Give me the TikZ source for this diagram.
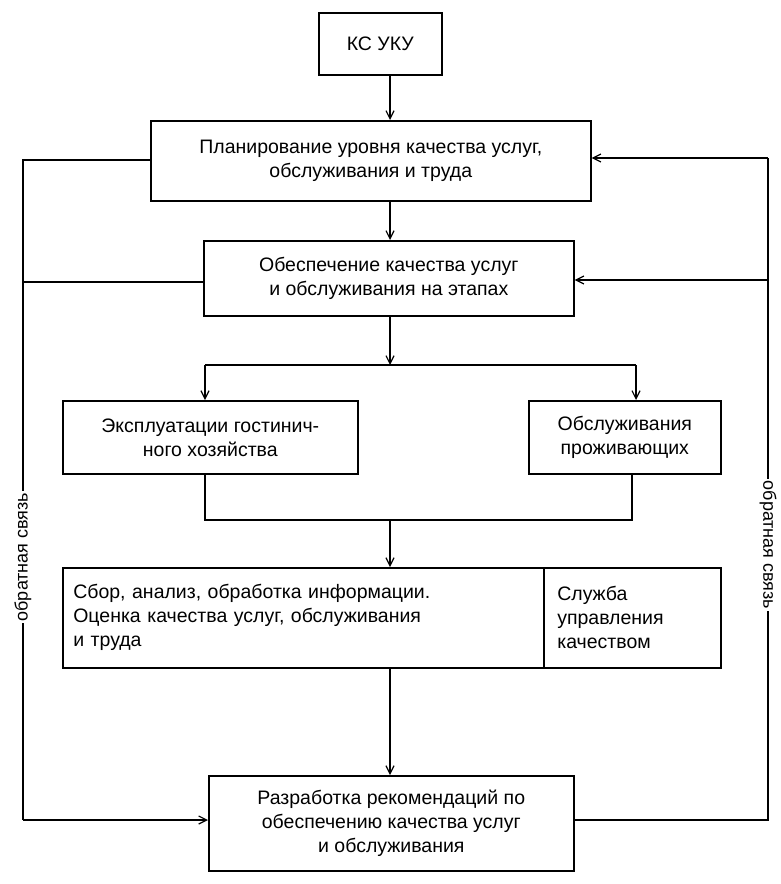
\documentclass[tikz,border=0pt]{standalone}
\usepackage{fontspec}
\setmainfont{Liberation Sans}
\usetikzlibrary{arrows.meta}
\begin{document}
\begin{tikzpicture}[x=1pt,y=-1pt,line width=1.6pt,
  box/.style={draw,line width=1.6pt,anchor=north west,inner sep=0pt,align=center,font=\fontsize{19.5}{24}\selectfont},
  arr/.style={-{Straight Barb[length=8pt,width=8pt,line width=1.2pt]}},
  lbl/.style={font=\fontsize{18}{22}\selectfont,fill=white,inner sep=2pt}]
\useasboundingbox[fill=white] (0,0) rectangle (780,884);
\node[box,minimum width=123pt,minimum height=62pt] (ks) at (318,12) {КС УКУ};
\node[box,minimum width=440pt,minimum height=80pt] (plan) at (150,120) {Планирование уровня качества услуг,\\обслуживания и труда};
\node[box,minimum width=370pt,minimum height=75pt] (obes) at (203,240) {Обеспечение качества услуг\\и обслуживания на этапах};
\node[box,minimum width=295pt,minimum height=73pt] (expl) at (62,400) {Эксплуатации гостинич-\\ного хозяйства};
\node[box,minimum width=192pt,minimum height=73pt] (obsl) at (528,400) {Обслуживания\\проживающих};
\node[box,minimum width=481pt,minimum height=100pt,align=left,text width=460pt] (sbor) at (62,567) {Сбор, анализ, обработка информации.\\Оценка качества услуг, обслуживания\\и труда};
\node[box,minimum width=177pt,minimum height=100pt,align=left,text width=150pt] (sluz) at (543,567) {Служба\\управления\\качеством};
\node[box,minimum width=365pt,minimum height=95pt] (razr) at (208,775) {Разработка рекомендаций по\\обеспечению качества услуг\\и обслуживания};
\coordinate (j1) at (390,365);
\coordinate (j2) at (390,520);
\coordinate (L) at (23,160);
\coordinate (R) at (768,158);
\draw[arr] (ks.south -| 390,0) -- (plan.north -| 390,0);
\draw[arr] (plan.south -| 390,0) -- (obes.north -| 390,0);
\draw[arr] (obes.south -| 390,0) -- (j1);
\draw[arr] (205,365) -- (expl.north -| 205,0);
\draw (205,365) -- (636,365);
\draw[arr] (636,365) -- (obsl.north -| 636,0);
\draw (expl.south -| 205,0) -- (205,520) -- (632,520) -- (obsl.south -| 632,0);
\draw[arr] (j2) -- (sbor.north -| 390,0);
\draw[arr] (sbor.south -| 390,0) -- (razr.north -| 390,0);
\draw (plan.west |- 0,160) -- (L) -- (23,820);
\draw (obes.west |- 0,282) -- (23,282);
\draw[arr] (23,820) -- (razr.west |- 0,820);
\draw (razr.east |- 0,820) -- (768,820) -- (R);
\draw[arr] (R) -- (plan.east |- 0,158);
\draw[arr] (768,280) -- (obes.east |- 0,280);
\node[lbl,rotate=90] (fbL) at (23,557) {обратная связь};
\node[lbl,rotate=-90] (fbR) at (768,545) {обратная связь};
\end{tikzpicture}
\end{document}
